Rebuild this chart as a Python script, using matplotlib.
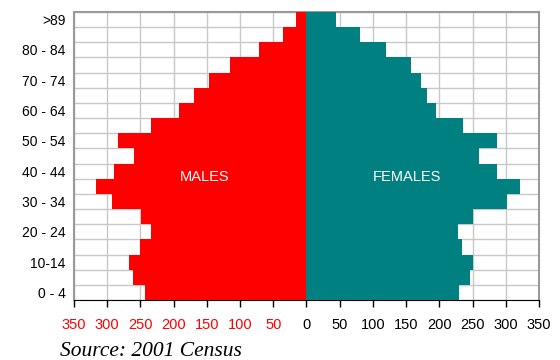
import numpy as np
import matplotlib
matplotlib.use("Agg")
import matplotlib.pyplot as plt

plt.rcParams["font.family"] = ["Liberation Sans", "DejaVu Sans"]

RED = "#ff0000"
TEAL = "#008080"
GRID = "#c8c8c8"

# age groups bottom -> top
ages = ["0 - 4", "5 - 9", "10-14", "15-19", "20 - 24", "25-29", "30 - 34", "35-39",
        "40 - 44", "45-49", "50 - 54", "55-59", "60 - 64", "65-69", "70 - 74",
        "75-79", "80 - 84", "85-89", ">89"]
males = [243, 261, 267, 251, 234, 249, 293, 317, 290, 259, 284, 234, 192, 169,
         146, 115, 72, 36, 15]
females = [229, 246, 250, 234, 228, 250, 302, 321, 287, 259, 287, 235, 195, 181,
           172, 158, 119, 80, 45]
xticks = [-350, -300, -250, -200, -150, -100, -50, 0, 50, 100, 150, 200, 250, 300, 350]

fig = plt.figure(figsize=(5.6, 3.6), dpi=100)
ax = fig.add_axes([0.132, 0.1667, 0.8305, 0.8])

y = np.arange(len(ages))
ax.barh(y, [-m for m in males], height=1.0, color=RED, zorder=3)
ax.barh(y, females, height=1.0, color=TEAL, zorder=3)

ax.set_xlim(-350, 350)
ax.set_ylim(-0.5, len(ages) - 0.5)

# grid: vertical every 50, horizontal at every band edge
ax.set_xticks(xticks)
ax.set_xticklabels([str(abs(v)) for v in xticks], fontsize=10.5)
for lab, v in zip(ax.get_xticklabels(), xticks):
    lab.set_color(RED if v < 0 else "black")
ax.set_yticks(y[::2])
ax.set_yticklabels(ages[::2], fontsize=10)
ax.set_yticks(np.arange(len(ages) + 1) - 0.5, minor=True)
ax.yaxis.grid(True, which="minor", color=GRID, linewidth=1.0, zorder=0)
ax.xaxis.grid(True, color=GRID, linewidth=1.0, zorder=0)
ax.set_axisbelow(True)

ax.tick_params(axis="y", which="both", length=0, pad=6)
ax.tick_params(axis="x", length=5, width=1, direction="out", pad=8, color="black")

for s in ["left", "top", "right"]:
    ax.spines[s].set_color("#999999")
    ax.spines[s].set_linewidth(1.5)
ax.spines["bottom"].set_color("black")

ax.text(-154, 7.6, "MALES", color="white", fontsize=10.5, ha="center", va="center", zorder=4)
ax.text(151, 7.6, "FEMALES", color="white", fontsize=10.5, ha="center", va="center", zorder=4)

fig.text(60 / 560, 1 - 352 / 360, "Source: 2001 Census", fontsize=15.5,
         family="Liberation Serif", style="italic", ha="left", va="center")

fig.savefig("out.png", dpi=100, facecolor="white")
